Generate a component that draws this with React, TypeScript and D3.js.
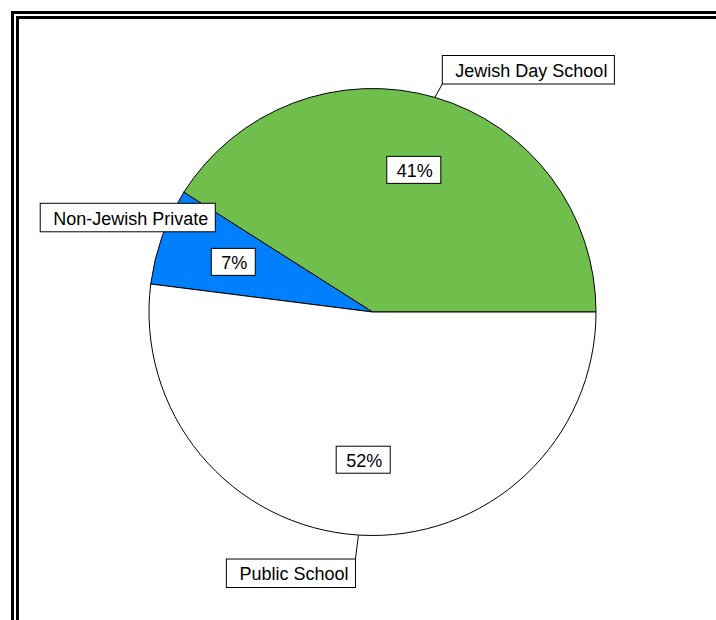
import React, { useEffect, useRef } from 'react';
import * as d3 from 'd3';

// school type shares (percent)
const categories = ["Jewish Day School", "Non-Jewish Private", "Public School"];
const values = [41, 7, 52];
const sliceColors = ["#70BF4C", "#0080FF", "#FFFFFF"];

// where each category label box sits relative to its slice
const labelLayout = [
    { leader: true, rOff: 16, dx: 3, dy: 2, corner: "bottom-left" },
    { leader: false, rOff: 0, dx: -122, dy: -4.5, corner: "bottom-left" },
    { leader: true, rOff: 24, dx: -1.5, dy: 0, corner: "top-right" },
];

export default function App() {
    const ref = useRef<SVGSVGElement>(null);

    useEffect(() => {
        const svg = d3.select(ref.current);
        svg.selectAll("*").remove();

        const width = 716, height = 620;
        const cx = 372.5, cy = 312, radius = 223.5;
        const font = "'Liberation Sans', Arial, sans-serif";

        svg.attr("width", width).attr("height", height);
        svg.append("rect").attr("width", width).attr("height", height).attr("fill", "#fff");

        // double frame (runs off the right and bottom edge)
        svg.append("rect")
            .attr("x", 12.5).attr("y", 12.5).attr("width", 900).attr("height", 900)
            .attr("fill", "none").attr("stroke", "#000").attr("stroke-width", 3);
        svg.append("rect")
            .attr("x", 17.5).attr("y", 17.5).attr("width", 900).attr("height", 900)
            .attr("fill", "none").attr("stroke", "#000").attr("stroke-width", 3);

        // start at 3 o'clock, go counter-clockwise
        const pie = d3.pie<number>()
            .sort(null)
            .startAngle(Math.PI / 2)
            .endAngle(Math.PI / 2 - 2 * Math.PI);
        const arcs = pie(values);

        const arc = d3.arc<d3.PieArcDatum<number>>().innerRadius(0).outerRadius(radius);
        const pctArc = d3.arc<d3.PieArcDatum<number>>().innerRadius(148).outerRadius(148);

        const g = svg.append("g").attr("transform", `translate(${cx},${cy})`);

        g.selectAll("path.slice")
            .data(arcs)
            .enter()
            .append("path")
            .attr("class", "slice")
            .attr("d", arc)
            .attr("fill", (d, i) => sliceColors[i])
            .attr("stroke", "#000")
            .attr("stroke-width", 1);

        const polar = (a: number, r: number) => [r * Math.sin(a), -r * Math.cos(a)];

        // category labels with leader lines
        arcs.forEach((d, i) => {
            const lay = labelLayout[i];
            const mid = (d.startAngle + d.endAngle) / 2;
            const [ex, ey] = polar(mid, radius);
            const [ax, ay] = polar(mid, radius + lay.rOff);
            const px = ax + lay.dx, py = ay + lay.dy;

            const lg = g.append("g");
            const rect = lg.append("rect")
                .attr("fill", "#fff").attr("stroke", "#000").attr("stroke-width", 1);
            const txt = lg.append("text")
                .attr("font-family", font).attr("font-size", 18)
                .attr("fill", "#000")
                .attr("text-anchor", "middle")
                .text(categories[i]);
            const tw = (txt.node() as SVGTextElement).getComputedTextLength();
            const bw = tw + 20, bh = 28.5;
            const bx = lay.corner === "top-right" ? px - bw : px;
            const by = lay.corner === "top-right" ? py : py - bh;
            rect.attr("x", bx).attr("y", by).attr("width", bw).attr("height", bh);
            txt.attr("x", bx + bw / 2 + 3).attr("y", by + bh / 2 + 7);

            if (lay.leader) {
                lg.insert("line", "rect")
                    .attr("x1", ex).attr("y1", ey).attr("x2", px).attr("y2", py)
                    .attr("stroke", "#000").attr("stroke-width", 1);
            }
        });

        // percentage labels
        arcs.forEach((d, i) => {
            const [px, py] = pctArc.centroid(d);
            const lg = g.append("g");
            const rect = lg.append("rect")
                .attr("fill", "#fff").attr("stroke", "#000").attr("stroke-width", 1);
            const txt = lg.append("text")
                .attr("font-family", font).attr("font-size", 18)
                .attr("fill", "#000")
                .attr("text-anchor", "middle")
                .attr("x", px + 1).attr("y", py + 7)
                .text(`${values[i]}%`);
            const tw = (txt.node() as SVGTextElement).getComputedTextLength();
            const bw = tw + 18, bh = 27;
            rect.attr("x", px - bw / 2).attr("y", py - bh / 2).attr("width", bw).attr("height", bh);
        });
    }, []);

    return (
        <div style={{ position: "absolute", left: 0, top: 0 }}>
            <svg ref={ref} style={{ display: "block" }}></svg>
        </div>
    );
}
